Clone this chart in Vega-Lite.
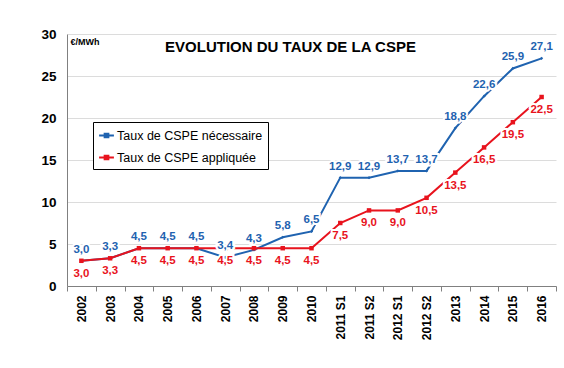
{
  "$schema": "https://vega.github.io/schema/vega-lite/v6.json",
  "width": 489,
  "height": 252,
  "autosize": {"type": "none"},
  "padding": {"left": 67, "top": 34, "right": 8, "bottom": 82},
  "background": "white",
  "config": {
    "locale": {"number": {"decimal": ",", "thousands": " ", "grouping": [3], "currency": ["", " €"]}},
    "font": "Liberation Sans",
    "view": {"stroke": null},
    "legend": {"strokeColor": "black", "fillColor": "white"}
  },
  "title": {
    "text": "EVOLUTION DU TAUX DE LA CSPE",
    "font": "Liberation Sans",
    "fontSize": 15,
    "fontWeight": "bold",
    "color": "black",
    "anchor": "middle",
    "frame": "group",
    "dx": -21,
    "offset": -28
  },
  "data": {
    "values": [
      {"annee": "2002", "serie": "Taux de CSPE nécessaire", "taux": 3.0},
      {"annee": "2003", "serie": "Taux de CSPE nécessaire", "taux": 3.3},
      {"annee": "2004", "serie": "Taux de CSPE nécessaire", "taux": 4.5},
      {"annee": "2005", "serie": "Taux de CSPE nécessaire", "taux": 4.5},
      {"annee": "2006", "serie": "Taux de CSPE nécessaire", "taux": 4.5},
      {"annee": "2007", "serie": "Taux de CSPE nécessaire", "taux": 3.4},
      {"annee": "2008", "serie": "Taux de CSPE nécessaire", "taux": 4.3},
      {"annee": "2009", "serie": "Taux de CSPE nécessaire", "taux": 5.8},
      {"annee": "2010", "serie": "Taux de CSPE nécessaire", "taux": 6.5},
      {"annee": "2011 S1", "serie": "Taux de CSPE nécessaire", "taux": 12.9},
      {"annee": "2011 S2", "serie": "Taux de CSPE nécessaire", "taux": 12.9},
      {"annee": "2012 S1", "serie": "Taux de CSPE nécessaire", "taux": 13.7},
      {"annee": "2012 S2", "serie": "Taux de CSPE nécessaire", "taux": 13.7},
      {"annee": "2013", "serie": "Taux de CSPE nécessaire", "taux": 18.8},
      {"annee": "2014", "serie": "Taux de CSPE nécessaire", "taux": 22.6},
      {"annee": "2015", "serie": "Taux de CSPE nécessaire", "taux": 25.9},
      {"annee": "2016", "serie": "Taux de CSPE nécessaire", "taux": 27.1},
      {"annee": "2002", "serie": "Taux de CSPE appliquée", "taux": 3.0},
      {"annee": "2003", "serie": "Taux de CSPE appliquée", "taux": 3.3},
      {"annee": "2004", "serie": "Taux de CSPE appliquée", "taux": 4.5},
      {"annee": "2005", "serie": "Taux de CSPE appliquée", "taux": 4.5},
      {"annee": "2006", "serie": "Taux de CSPE appliquée", "taux": 4.5},
      {"annee": "2007", "serie": "Taux de CSPE appliquée", "taux": 4.5},
      {"annee": "2008", "serie": "Taux de CSPE appliquée", "taux": 4.5},
      {"annee": "2009", "serie": "Taux de CSPE appliquée", "taux": 4.5},
      {"annee": "2010", "serie": "Taux de CSPE appliquée", "taux": 4.5},
      {"annee": "2011 S1", "serie": "Taux de CSPE appliquée", "taux": 7.5},
      {"annee": "2011 S2", "serie": "Taux de CSPE appliquée", "taux": 9.0},
      {"annee": "2012 S1", "serie": "Taux de CSPE appliquée", "taux": 9.0},
      {"annee": "2012 S2", "serie": "Taux de CSPE appliquée", "taux": 10.5},
      {"annee": "2013", "serie": "Taux de CSPE appliquée", "taux": 13.5},
      {"annee": "2014", "serie": "Taux de CSPE appliquée", "taux": 16.5},
      {"annee": "2015", "serie": "Taux de CSPE appliquée", "taux": 19.5},
      {"annee": "2016", "serie": "Taux de CSPE appliquée", "taux": 22.5}
    ]
  },
  "encoding": {
    "x": {
      "field": "annee",
      "type": "nominal",
      "sort": null,
      "scale": {"paddingInner": 0, "paddingOuter": 0},
      "axis": {
        "title": null,
        "labelAngle": 270,
        "labelAlign": "right",
        "labelBaseline": "middle",
        "labelFont": "Liberation Sans",
        "labelFontSize": 12,
        "labelFontWeight": "bold",
        "labelColor": "black",
        "labelPadding": 4,
        "tickBand": "extent",
        "tickSize": 5,
        "tickColor": "#808080",
        "domainColor": "#808080",
        "grid": false
      }
    },
    "y": {
      "field": "taux",
      "type": "quantitative",
      "scale": {"domain": [0, 30]},
      "axis": {
        "title": "€/MWh",
        "titleAngle": 0,
        "titleAlign": "left",
        "titleBaseline": "top",
        "titleX": 3,
        "titleY": 3,
        "titleFontSize": 9,
        "titleFontWeight": "bold",
        "titleColor": "black",
        "values": [0, 5, 10, 15, 20, 25, 30],
        "labelFont": "Liberation Sans",
        "labelFontSize": 13.5,
        "labelFontWeight": "bold",
        "labelColor": "black",
        "labelPadding": 11,
        "ticks": false,
        "domainColor": "#808080",
        "gridColor": "#dcdcdc"
      }
    }
  },
  "layer": [
    {
      "mark": {"type": "line", "strokeWidth": 2},
      "encoding": {
        "color": {
          "field": "serie",
          "type": "nominal",
          "scale": {
            "domain": ["Taux de CSPE nécessaire", "Taux de CSPE appliquée"],
            "range": ["#1F63B0", "#E8131D"]
          },
          "legend": {
            "title": null,
            "orient": "none",
            "legendX": 26,
            "legendY": 88,
            "strokeColor": "black",
            "fillColor": "white",
            "padding": 5,
            "labelFont": "Liberation Sans",
            "labelFontSize": 12.5,
            "labelColor": "black",
            "rowPadding": 7,
            "symbolType": "M-1,0H1M-0.25,-0.25H0.25V0.25H-0.25Z",
            "symbolSize": 220,
            "symbolStrokeWidth": 2,
            "labelOffset": 2,
            "encode": {
              "legend": {"update": {"stroke": {"value": "black"}, "strokeWidth": {"value": 1}, "fill": {"value": "white"}}}
            }
          }
        }
      }
    },
    {
      "transform": [{"filter": "datum.serie === 'Taux de CSPE nécessaire'"}],
      "mark": {"type": "point", "filled": true, "opacity": 1, "shape": "diamond", "size": 10, "color": "#1F63B0"}
    },
    {
      "transform": [{"filter": "datum.serie === 'Taux de CSPE appliquée'"}],
      "mark": {"type": "point", "filled": true, "opacity": 1, "shape": "square", "size": 20, "color": "#E8131D"}
    },
    {
      "transform": [{"filter": "datum.serie === 'Taux de CSPE nécessaire'"}],
      "mark": {"type": "text", "dy": -11, "fontSize": 11.5, "fontWeight": "bold", "stroke": "white", "strokeWidth": 4, "fill": "white"},
      "encoding": {"text": {"field": "taux", "type": "quantitative", "format": ".1f"}}
    },
    {
      "transform": [{"filter": "datum.serie === 'Taux de CSPE appliquée'"}],
      "mark": {"type": "text", "dy": 13, "fontSize": 11.5, "fontWeight": "bold", "stroke": "white", "strokeWidth": 4, "fill": "white"},
      "encoding": {"text": {"field": "taux", "type": "quantitative", "format": ".1f"}}
    },
    {
      "transform": [{"filter": "datum.serie === 'Taux de CSPE nécessaire'"}],
      "mark": {"type": "text", "dy": -11, "fontSize": 11.5, "fontWeight": "bold", "color": "#1F63B0"},
      "encoding": {"text": {"field": "taux", "type": "quantitative", "format": ".1f"}}
    },
    {
      "transform": [{"filter": "datum.serie === 'Taux de CSPE appliquée'"}],
      "mark": {"type": "text", "dy": 13, "fontSize": 11.5, "fontWeight": "bold", "color": "#E8131D"},
      "encoding": {"text": {"field": "taux", "type": "quantitative", "format": ".1f"}}
    }
  ]
}
